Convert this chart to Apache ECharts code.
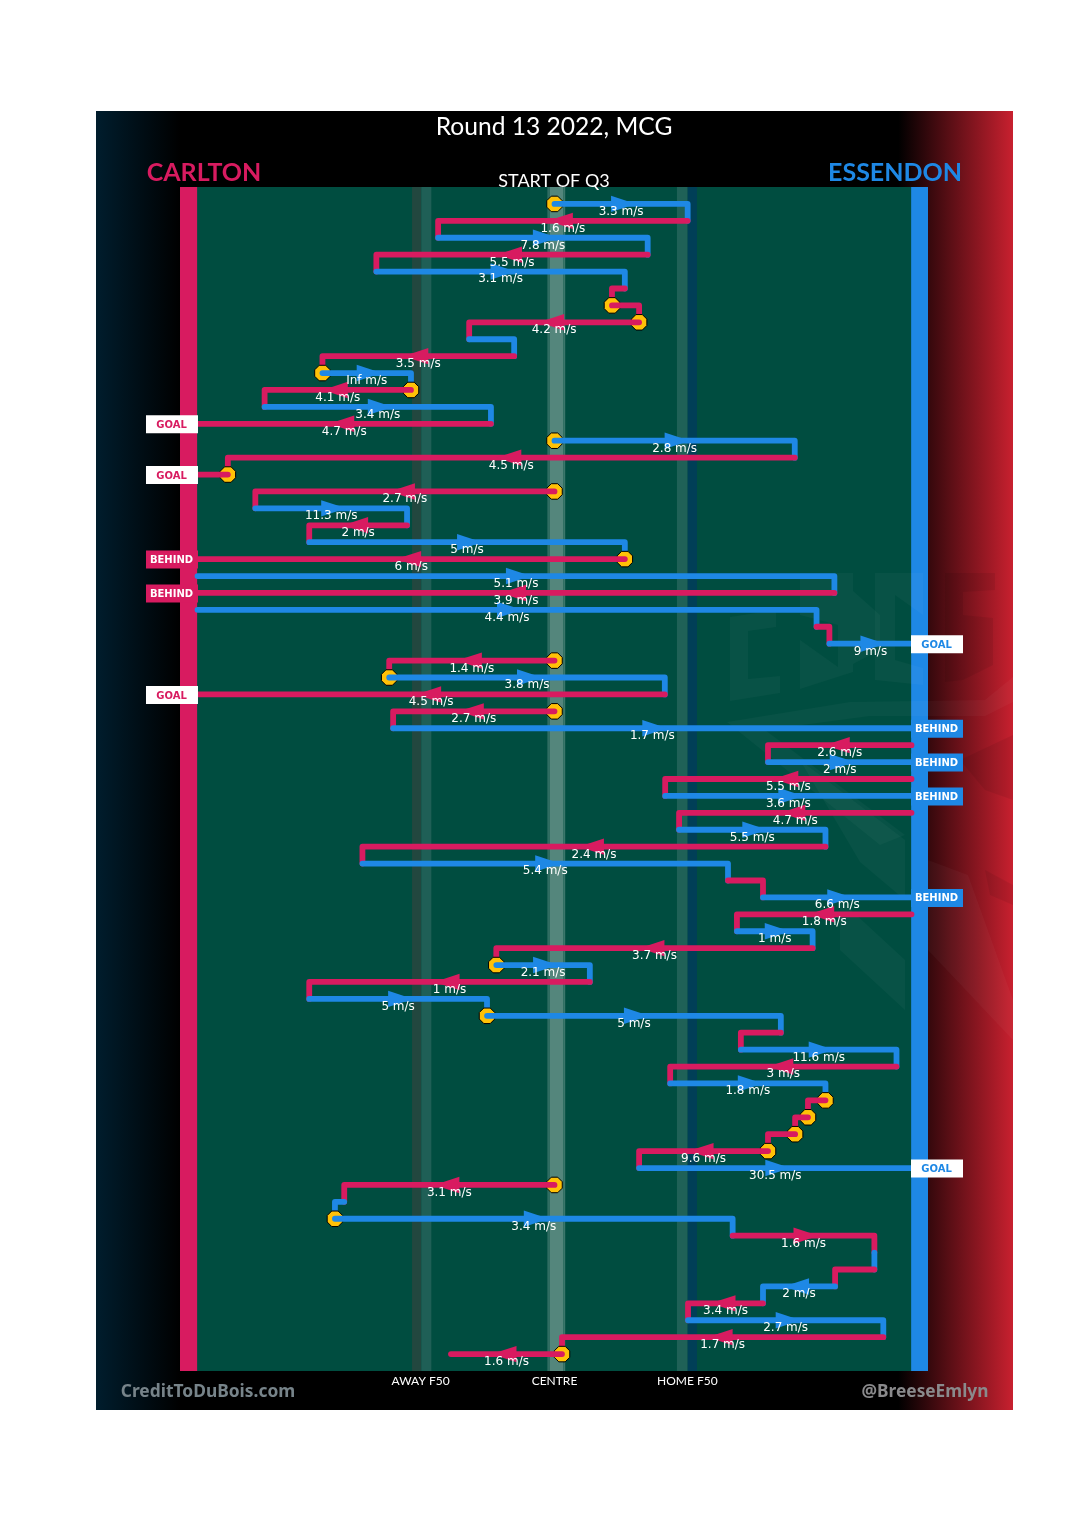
<!DOCTYPE html>
<html><head><meta charset="utf-8">
<style>html,body{margin:0;padding:0;background:#fff}#c{width:1080px;height:1535px}</style>
<script src="https://cdn.jsdelivr.net/npm/echarts@6/dist/echarts.min.js"></script>
</head><body><div id="c"></div>
<script>
// Field position: -100 Carlton goal line, 0 centre, 100 Essendon goal line. One entry per row.
const team = ['E','C','E','C','E','C','C','C','E','C','E','C','E','C','E','C','C','C','E','C','E','C','E','C','E','C','E','C','E','C','C','E','C','E','C','E','C','E','C','E','C','E','C','E','C','E','C','E','E','C','E','C','E','C','C','C','C','E','C','E','E','C','E','C','E','C','E','C','C'];
const fromX = [0,37.3,-32.6,26.1,-49.9,19.7,16.1,23.7,-23.9,-11.3,-65,-40.2,-81.2,-17.8,0,67.3,-91.5,0,-83.8,-41.3,-68.7,19.7,-100,78.4,-100,73.4,77,0,-46.3,30.9,0,-45.2,100,59.8,100,31,100,34.9,75.9,-53.8,48.6,58.4,100,51.1,72.3,-16.3,9.9,-68.7,-18.9,63.4,52.2,95.8,32.4,75.9,71,67.4,59.8,23.7,0,-58.9,-61.5,49.9,89.6,89.6,78.6,58.4,37.4,92.1,2.1];
const toX = [37.3,-32.6,26.1,-49.9,19.7,16.1,23.7,-23.9,-11.3,-65,-40.2,-81.2,-17.8,-100,67.3,-91.5,-100,-83.8,-41.3,-68.7,19.7,-100,78.4,-100,73.4,77,100,-46.3,30.9,-100,-45.2,100,59.8,100,31,100,34.9,75.9,-53.8,48.6,58.4,100,51.1,72.3,-16.3,9.9,-68.7,-18.9,63.4,52.2,95.8,32.4,75.9,71,67.4,59.8,23.7,100,-58.9,-61.5,49.9,89.6,89.6,78.6,58.4,37.4,92.1,2.1,-29];
const speeds = ['3.3','1.6','7.8','5.5','3.1','','','4.2','','3.5','Inf','4.1','3.4','4.7','2.8','4.5','','2.7','11.3','2','5','6','5.1','3.9','4.4','','9','1.4','3.8','4.5','2.7','1.7','2.6','2','5.5','3.6','4.7','5.5','2.4','5.4','','6.6','1.8','1','3.7','2.1','1','5','5','','11.6','3','1.8','','','','9.6','30.5','3.1','','3.4','1.6','','','2','3.4','2.7','1.7','1.6'];
const stoppageRows = [0,6,7,10,11,14,16,17,21,27,28,30,45,48,53,54,55,56,58,60,68];
const scoreRows = [13,16,21,23,26,29,31,33,35,41,57];
const scoreTypes = ['GOAL','GOAL','BEHIND','BEHIND','GOAL','GOAL','BEHIND','BEHIND','BEHIND','BEHIND','GOAL'];
const bandFrom = [-39.9,-37.3,-2.0,-1.3,2.5,34.3,37.3];
const bandTo = [-37.3,-34.5,-1.3,2.5,3.0,37.3,39.9];
const bandColours = ['#22473f','#1f5f56','#2f6d62','#54867c','#3b766b','#1f6157','#003f57'];
const postFrom = [-104.9,99.9];
const postTo = [-100.1,104.62];
const tickValues = [-37.5,0,37.2];
const tickNames = ['AWAY F50','CENTRE','HOME F50'];

const RED='#D81B60', BLUE='#1E88E5', YEL='#FFC107';
const col = t => t==='C'?RED:BLUE;
const rows = team.map((t,i)=>[fromX[i],toX[i],i]);
const linked = i => i+1<team.length && fromX[i+1]===toX[i] && Math.abs(toX[i])!==100;
const scoreIdx = i => scoreRows.indexOf(i);

function renderRow(p,api){
  const i=api.value(2), a=api.coord([fromX[i],i]), b=api.coord([toX[i],i]);
  const kids=[], c=col(team[i]);
  if(stoppageRows.includes(i)){
    const pts=[];for(let k=0;k<8;k++){const an=(k+.5)*Math.PI/4;pts.push([a[0]+8.4*Math.cos(an),a[1]+8.4*Math.sin(an)]);}
    kids.push({type:'polygon',shape:{points:pts},style:{fill:YEL,stroke:'#000',lineWidth:1}});
  }
  const pts=[a,b];
  if(linked(i)) pts.push(api.coord([toX[i],i+1]));
  kids.push({type:'polyline',shape:{points:pts},style:{fill:null,stroke:c,lineWidth:5.8,lineCap:'round',lineJoin:'round'}});
  if(speeds[i]){
    const m=(a[0]+b[0])/2, d=b[0]>a[0]?1:-1, y=a[1];
    kids.push({type:'polygon',shape:{points:[[m-10*d,y-8.2],[m+15*d,y],[m-10*d,y+8.2]]},style:{fill:c}});
  }
  return {type:'group',children:kids};
}
function renderLabel(p,api){
  const i=api.value(2); if(!speeds[i]) return null;
  const a=api.coord([fromX[i],i]), b=api.coord([toX[i],i]);
  return {type:'text',style:{x:(a[0]+b[0])/2,y:a[1]+7.8,text:speeds[i]+' m/s',fill:'#fff',font:'12px "DejaVu Sans"',align:'center',verticalAlign:'middle'}};
}
function renderTag(p,api){
  const i=api.value(2), idx=scoreIdx(i); if(idx<0) return null;
  const home=team[i]==='C', g=api.coord([home?-100:100,i]);
  const kind=scoreTypes[idx], x=home?g[0]-51.5:g[0]-.5, c=col(team[i]), isGoal=kind==='GOAL';
  return {type:'group',children:[
    {type:'rect',shape:{x:x,y:g[1]-8.5,width:52,height:18},style:{fill:isGoal?'#fff':c}},
    {type:'text',style:{x:x+25.5,y:g[1]+1.5,text:kind,fill:isGoal?c:'#fff',font:'bold 10px "DejaVu Sans"',align:'center',verticalAlign:'middle'}}
  ]};
}
function renderBand(p,api){
  const i=api.value(0), isPost=api.value(1)===1;
  const f=isPost?postFrom[i]:bandFrom[i], t=isPost?postTo[i]:bandTo[i];
  const a=api.coord([f,-1]), b=api.coord([t,69]);
  return {type:'rect',shape:{x:a[0],y:a[1],width:b[0]-a[0],height:b[1]-a[1]},style:{fill:isPost?(i===0?RED:BLUE):bandColours[i]}};
}
const wm=(pts,fill)=>({type:'polygon',z:2,silent:true,shape:{points:pts},style:{fill}});
const L='rgba(255,255,255,0.03)', D='rgba(0,0,0,0.07)';
const txt=(x,y,t,font,fill,align)=>({type:'text',z:6,style:{x,y,text:t,font,fill,align:align||'center',verticalAlign:'middle'}});

const chart=echarts.init(document.getElementById('c'),null,{renderer:'canvas',width:1080,height:1535});
chart.setOption({
  animation:false,
  backgroundColor:'#fff',
  grid:{left:180,top:187,width:748,height:1184,show:true,backgroundColor:'#004D40',borderWidth:0},
  xAxis:{type:'value',min:-104.9,max:104.62,splitLine:{show:false},axisLine:{show:false},axisTick:{show:false},
    axisLabel:{show:true,customValues:tickValues,margin:4,color:'#fff',fontSize:12,fontFamily:'Lato',
      formatter:v=>tickNames[tickValues.indexOf(v)]||''}},
  yAxis:{type:'value',inverse:true,min:-1,max:69,show:false},
  graphic:[
    {type:'rect',z:-10,silent:true,shape:{x:96,y:111,width:917,height:1299},
     style:{fill:new echarts.graphic.LinearGradient(0,0,1,0,[
       {offset:0,color:'#001d2d'},{offset:0.092,color:'#000'},{offset:0.875,color:'#000'},{offset:1,color:'#C8202F'}])}},
    wm([[730,617],[776,610],[776,627],[748,631],[748,679],[780,676],[780,693],[730,701]],L),
    wm([[800,573],[853,573],[853,591],[880,615],[880,650],[853,664],[853,672],[800,689],[800,640],[838,667],[838,625],[800,615]],L),
    wm([[875,573],[923,573],[923,615],[895,595],[895,660],[923,668],[923,685],[875,680]],L),
    wm([[945,573],[995,573],[995,590],[963,592],[963,615],[993,618],[993,665],[963,680],[945,682]],D),
    wm([[727,722],[850,702],[985,700],[1013,677],[1013,702],[985,716],[870,716],[765,730],[905,835],[880,845]],L),
    wm([[800,760],[905,840],[905,900],[860,862]],L),
    wm([[840,900],[905,960],[905,1010],[840,950]],L),
    wm([[960,760],[1013,735],[1013,800],[985,790]],D),
    wm([[928,860],[968,875],[1013,1000],[1013,1040],[928,950]],L),
    wm([[985,870],[1013,885],[1013,905],[990,895]],D),
    txt(554,127,'Round 13 2022, MCG','24.6px Lato','#fff'),
    txt(204,173,'CARLTON','bold 25px Lato',RED),
    txt(895,173,'ESSENDON','bold 25px Lato',BLUE),
    txt(554,181,'START OF Q3','18px Lato','#fff'),
    txt(208,1392,'CreditToDuBois.com','bold 17.4px "Noto Sans"','#77848a'),
    txt(925,1392,'@BreeseEmlyn','bold 17.3px "Noto Sans"','#8a8a8c')
  ],
  series:[
    {type:'custom',z:1,silent:true,clip:false,renderItem:renderBand,data:bandColours.map((_,i)=>[i,0]).concat(postFrom.map((_,i)=>[i,1]))},
    {type:'custom',z:3,silent:true,clip:false,renderItem:renderRow,data:rows},
    {type:'custom',z:4,silent:true,clip:false,renderItem:renderLabel,data:rows},
    {type:'custom',z:5,silent:true,clip:false,renderItem:renderTag,data:rows}
  ]
});
</script></body></html>
